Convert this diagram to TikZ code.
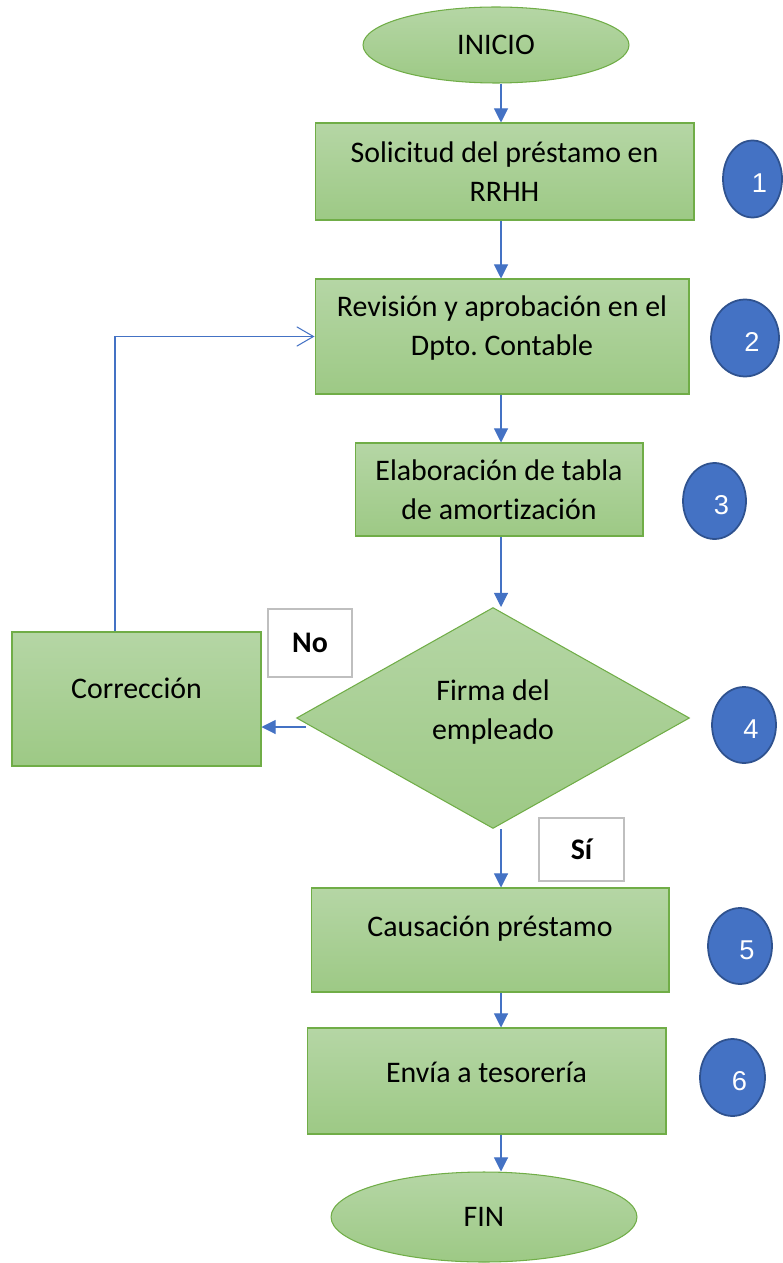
\documentclass[tikz,border=0pt]{standalone}
\usepackage{fontspec}
\setmainfont[Ligatures=NoCommon]{Carlito}
\newfontfamily\numfont{Liberation Sans}
\usepackage{tikz}
\usetikzlibrary{shapes.geometric,arrows.meta,calc}
\definecolor{ofblue}{HTML}{4472C4}
\definecolor{ofblueline}{HTML}{2F528F}
\definecolor{ofgreen}{HTML}{70AD47}
\definecolor{greentop}{HTML}{B5D6A5}
\definecolor{greenbot}{HTML}{9DC985}
\definecolor{labgray}{HTML}{BFBFBF}
\frenchspacing

\begin{document}
\begin{tikzpicture}[x=0.02cm,y=-0.02cm,
  every node/.style={font=\fontsize{17}{22}\selectfont},
  gbox/.style={draw=ofgreen,line width=0.6pt,top color=greentop,bottom color=greenbot,
    align=center,inner sep=0pt},
  oval/.style={gbox,ellipse},
  numc/.style={ellipse,draw=ofblueline,line width=1pt,fill=ofblue,text=white,inner sep=0pt,
    font=\numfont\fontsize{15.5}{18}\selectfont,text height=15.5pt},
  labbox/.style={draw=labgray,line width=0.9pt,fill=white,inner sep=0pt,
    font=\bfseries\fontsize{17}{22}\selectfont},
  lift/.style={text depth=#1},
  arr/.style={draw=ofblue,line width=0.6pt,-{Triangle[length=8pt,width=8pt]}},
  back/.style={draw=ofblue,line width=0.6pt,-{Straight Barb[length=9.5pt,width=11pt]}}]
  \useasboundingbox (0,0) rectangle (783,1263);
  % main column
  \node[oval,minimum width=5.32cm,minimum height=1.52cm] (ini) at (496,45) {INICIO};
  \node[gbox,minimum width=7.58cm,minimum height=1.94cm] (b1) at (504.5,171.5) {Solicitud del préstamo en\\RRHH};
  \node[gbox,minimum width=7.48cm,minimum height=2.30cm,lift=12.3pt] (b2) at (502,336.5) {Revisión y aprobación en el\\Dpto. Contable};
  \node[gbox,minimum width=5.76cm,minimum height=1.86cm] (b3) at (499,489.5) {Elaboración de tabla\\de amortización};
  \node[gbox,diamond,aspect=1.78,minimum width=7.86cm,minimum height=4.42cm,lift=9.3pt] (dec) at (493,718) {Firma del\\empleado};
  \node[gbox,minimum width=7.16cm,minimum height=2.08cm,lift=15.7pt] (b5) at (490,940) {Causación préstamo};
  \node[gbox,minimum width=7.18cm,minimum height=2.12cm,lift=10.2pt] (b6) at (486.5,1081) {Envía a tesorería};
  \node[oval,minimum width=6.12cm,minimum height=1.80cm] (fin) at (484,1217) {FIN};
  % side
  \node[gbox,minimum width=4.98cm,minimum height=2.68cm,lift=12.4pt] (corr) at (136.5,699) {Corrección};
  \node[labbox,minimum width=1.68cm,minimum height=1.36cm] (no) at (310,643) {No};
  \node[labbox,minimum width=1.70cm,minimum height=1.26cm] (si) at (581.5,849.5) {Sí};
  % step numbers
  \node[numc,minimum width=1.18cm,minimum height=1.54cm] (c1) at (752.5,179) {\hspace{8pt}1};
  \node[numc,minimum width=1.36cm,minimum height=1.54cm] (c2) at (745,338) {\hspace{8pt}2};
  \node[numc,minimum width=1.26cm,minimum height=1.52cm] (c3) at (714.5,501) {\hspace{8pt}3};
  \node[numc,minimum width=1.28cm,minimum height=1.52cm] (c4) at (744,725) {\hspace{8pt}4};
  \node[numc,minimum width=1.28cm,minimum height=1.52cm] (c5) at (740,946) {\hspace{8pt}5};
  \node[numc,minimum width=1.30cm,minimum height=1.54cm] (c6) at (732.5,1077.5) {\hspace{8pt}6};
  % connectors
  \coordinate (ax) at (501,0);
  \coordinate (lx) at (115,0);
  \draw[arr] (ini.south -| ax) -- (b1.north -| ax);
  \draw[arr] (b1.south -| ax) -- (b2.north -| ax);
  \draw[arr] (b2.south -| ax) -- (b3.north -| ax);
  \draw[arr] (b3.south -| ax) -- (dec.north -| ax);
  \draw[arr] (dec.south -| ax) -- (b5.north -| ax);
  \draw[arr] (b5.south -| ax) -- (b6.north -| ax);
  \draw[arr] (b6.south -| ax) -- (fin.north -| ax);
  \coordinate (nf) at ($(dec.west)+(10,9)$);
  \draw[arr] (nf) -- (nf -| corr.east);
  \draw[back] (corr.north -| lx) |- (b2.west);
\end{tikzpicture}
\end{document}
